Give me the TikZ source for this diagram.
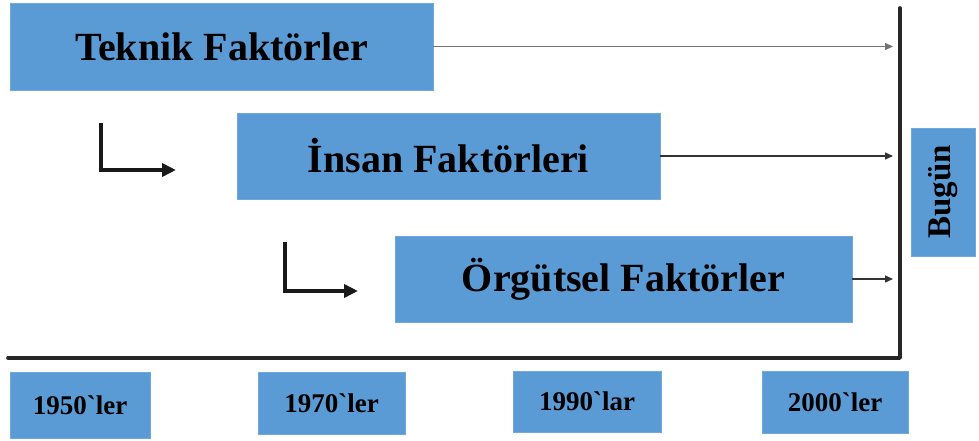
\documentclass[tikz,border=0pt]{standalone}
\usepackage{fontspec}
\setmainfont{Liberation Serif}
\usetikzlibrary{arrows.meta,calc}
\definecolor{boxblue}{HTML}{5B9BD5}
\definecolor{boxedge}{HTML}{6FA8DC}
\tikzset{
  box/.style={fill=boxblue, draw=boxedge, line width=0.8pt, inner sep=0pt, font=\bfseries\fontsize{40}{44}\selectfont},
  yearbox/.style={box, font=\bfseries\fontsize{27}{30}\selectfont},
  conn/.style={line width=1.4pt, draw=black!80, -{Triangle[length=8pt,width=7pt]}},
  elbow/.style={line width=3.6pt, draw=black!90, -{Triangle[length=14pt,width=13pt]}},
  axis/.style={line width=3.6pt, draw=black!85, line cap=round, line join=round}
}
\begin{document}
\begin{tikzpicture}[x=1pt,y=-1pt]
\useasboundingbox (0,0) rectangle (979,441);
\node[box, minimum width=423pt, minimum height=87pt] (teknik) at (221.5,46.5) {Teknik Faktörler};
\node[box, minimum width=423pt, minimum height=86pt] (insan) at (448.5,156) {İnsan Faktörleri};
\node[box, minimum width=457pt, minimum height=86pt] (orgut) at (623.5,279) {Örgütsel Faktörler};
\node[box, minimum width=128pt, minimum height=64pt, font=\bfseries\fontsize{33}{36}\selectfont, rotate=90] (bugun) at (943,192) {Bugün};

\node[yearbox, minimum width=140pt, minimum height=66pt] (y1950) at (80,405) {1950\textasciigrave ler};
\node[yearbox, minimum width=147pt, minimum height=62pt] (y1970) at (331.5,403) {1970\textasciigrave ler};
\node[yearbox, minimum width=148pt, minimum height=61pt] (y1990) at (587,401.5) {1990\textasciigrave lar};
\node[yearbox, minimum width=146pt, minimum height=62pt] (y2000) at (835,402) {2000\textasciigrave ler};

\coordinate (bartop) at (900,8);
\coordinate (corner) at (900,358);
\coordinate (baseleft) at (8,358);
\coordinate (tipx) at (893,0);
\draw[axis] (bartop) -- (corner) -- (baseleft);

\draw[conn, draw=black!55] (teknik.east) -- (teknik.east -| tipx);
\draw[conn] (insan.east) -- (insan.east -| tipx);
\draw[conn] (orgut.east) -- (orgut.east -| tipx);

\coordinate (e1a) at (101,123);
\coordinate (e1b) at (101,170);
\coordinate (e1c) at (176,170);
\draw[elbow] (e1a) -- (e1b) -- (e1c);
\coordinate (e2a) at (285,242);
\coordinate (e2b) at (285,291);
\coordinate (e2c) at (358,291);
\draw[elbow] (e2a) -- (e2b) -- (e2c);
\end{tikzpicture}
\end{document}
